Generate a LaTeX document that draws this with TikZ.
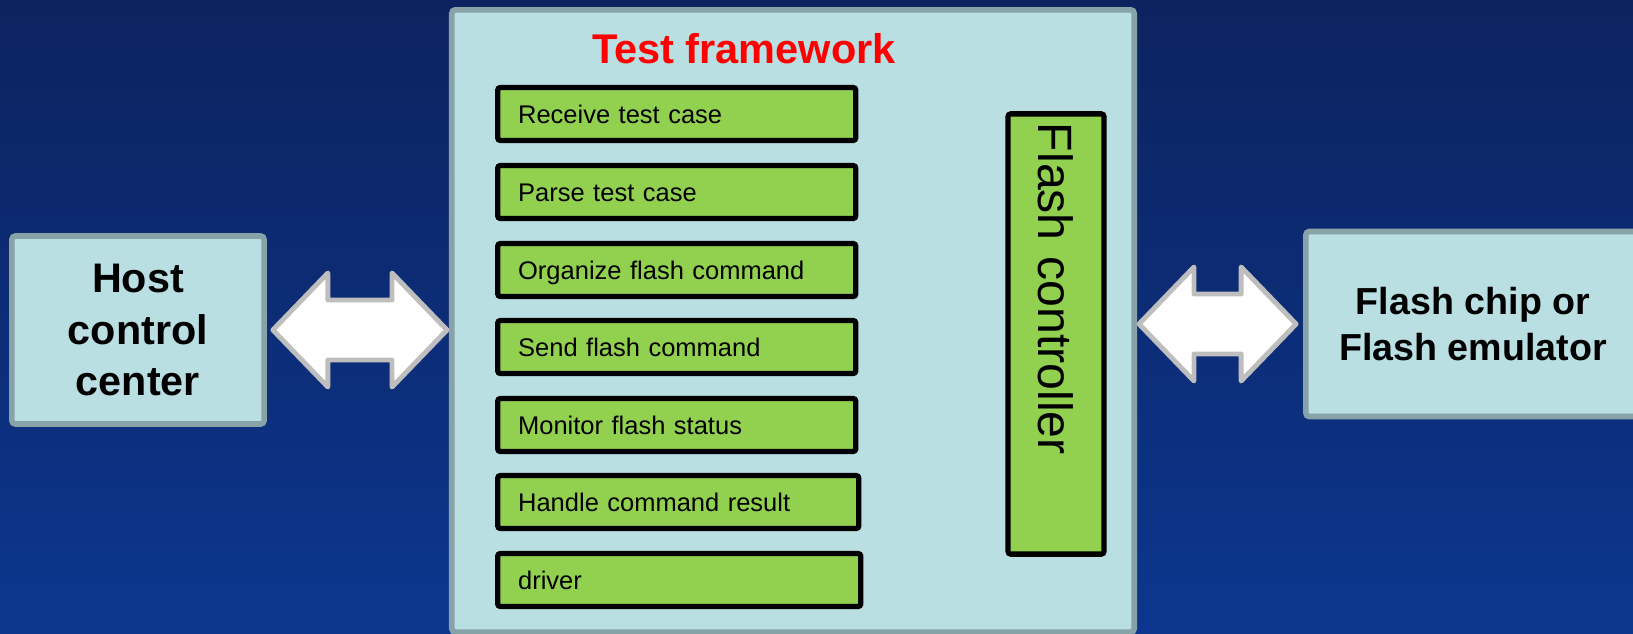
\documentclass[tikz,border=0pt]{standalone}
\usepackage{fontspec}
\setmainfont{Liberation Sans}
\usepackage{tikz}
\usetikzlibrary{calc}
\definecolor{bgtop}{RGB}{12,35,95}
\definecolor{bgbot}{RGB}{12,54,142}
\definecolor{boxfill}{RGB}{185,223,227}
\definecolor{boxline}{RGB}{136,163,168}
\definecolor{stepgreen}{RGB}{146,208,80}
\definecolor{arrowline}{RGB}{190,190,190}

\tikzset{
  panel/.style={draw=boxline, fill=boxfill, line width=1.6pt, rounded corners=1pt, inner sep=0pt},
  stepbox/.style={draw=black, fill=stepgreen, line width=1.5pt, rounded corners=0.8pt, anchor=west,
    minimum height=0.53cm, inner xsep=0.205cm, inner ysep=0pt, text width=3.17cm, align=left,
    text height=0.18cm, text depth=0cm, font=\fontsize{7.25}{8.7}\selectfont},
  blockarrow/.style={draw=arrowline, fill=white, line width=1.4pt, line join=round}
}

\begin{document}
\begin{tikzpicture}[x=0.01cm, y=-0.01cm]
  \useasboundingbox (0,0) rectangle (1633,633);
  \shade[top color=bgtop, bottom color=bgbot] (0,0) rectangle (1633,633);

  % outer blocks
  \node[panel, minimum width=2.52cm, minimum height=1.88cm, align=center,
    font=\fontsize{11.75}{14.6}\selectfont\bfseries] (host) at (138,330) {Host\\control\\center};
  \node[panel, minimum width=6.82cm, minimum height=6.22cm] (frame) at (793,321) {};
  \node[panel, minimum width=3.34cm, minimum height=1.85cm, align=center,
    font=\fontsize{10.7}{13.1}\selectfont\bfseries] (chip) at (1473,324) {Flash chip or\\Flash emulator};
  \node[text=red, anchor=base, font=\fontsize{11.8}{14}\selectfont\bfseries] (title) at (744,63) {Test framework};

  % steps inside the framework
  \node[stepbox] (recv) at (495,114) {Receive test case};
  \node[stepbox] (parse) at (495,192) {Parse test case};
  \node[stepbox] (org) at (495,270) {Organize flash command};
  \node[stepbox] (send) at (495,347) {Send flash command};
  \node[stepbox] (mon) at (495,425) {Monitor flash status};
  \node[stepbox, text width=3.20cm] (handle) at (495,502) {Handle command result};
  \node[stepbox, text width=3.22cm] (drv) at (495,580) {driver};

  \node[draw=black, fill=stepgreen, line width=1.5pt, rounded corners=0.8pt, rotate=-90,
    minimum width=4.40cm, minimum height=0.96cm, inner xsep=0.09cm, inner ysep=0pt,
    text width=4.22cm, align=left, font=\fontsize{13.7}{16}\selectfont] (ctrl) at (1056,334) {Flash controller};

  % double block arrows
  \coordinate (la) at ($(host.east)+(6,0)$);
  \coordinate (lb) at ($(frame.west |- host.east)+(-2,0)$);
  \draw[blockarrow] (la) -- ++(55,-57) -- ++(0,27) -- ($(lb)+(-55,-30)$) -- ++(0,-27) -- (lb)
    -- ++(-55,57) -- ++(0,-27) -- ($(la)+(55,30)$) -- ++(0,27) -- cycle;
  \coordinate (ra) at ($(frame.east |- chip.west)+(2,0)$);
  \coordinate (rb) at ($(chip.west)+(-7,0)$);
  \draw[blockarrow] (ra) -- ++(55,-57) -- ++(0,27) -- ($(rb)+(-55,-30)$) -- ++(0,-27) -- (rb)
    -- ++(-55,57) -- ++(0,-27) -- ($(ra)+(55,30)$) -- ++(0,27) -- cycle;
\end{tikzpicture}
\end{document}
